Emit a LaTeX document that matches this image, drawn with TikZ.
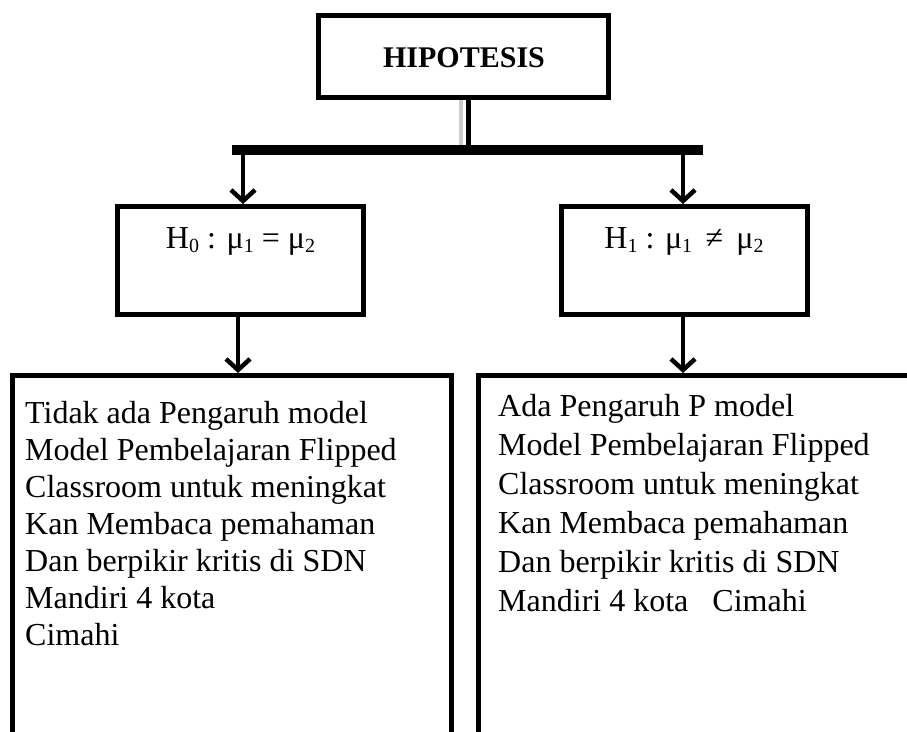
\documentclass[tikz,border=0pt]{standalone}
\usepackage{fontspec}
\setmainfont{Liberation Serif}
\usetikzlibrary{arrows.meta}
\newcommand{\lowidx}[1]{\raisebox{-0.3ex}{\fontsize{20}{20}\selectfont #1}}

\begin{document}
\begin{tikzpicture}
    [x=1pt,y=-1pt,
     box/.style={draw, rectangle, line width=5pt, inner sep=0pt},
     txt/.style={inner sep=0pt, font=\fontsize{32}{37}\selectfont},
     arr/.style={line width=4.5pt, -{Straight Barb[length=11pt,width=24pt]}}]
    \useasboundingbox (0,0) rectangle (907,731);
    \clip (0,0) rectangle (907,731);
    \node[box, minimum width=290pt, minimum height=82pt] (hip) at (463.5, 56.5) {};
    \node[txt, font=\fontsize{30}{30}\selectfont\bfseries, anchor=base] (hipt) at (464, 67) {HIPOTESIS};
    \node[box, minimum width=246pt, minimum height=108pt] (h0) at (240.5, 260.5) {};
    \node[box, minimum width=246pt, minimum height=108pt] (h1) at (684, 260.5) {};
    \node[txt, anchor=base] (h0t) at (240.5, 248) {H\lowidx{0} : μ\lowidx{1} = μ\lowidx{2}};
    \node[txt, anchor=base] (h1t) at (684, 248) {H\lowidx{1} : μ\lowidx{1} \,≠\, μ\lowidx{2}};
    \node[box, minimum width=438.5pt, minimum height=400pt] (r0) at (231.75, 575.5) {};
    \node[box, minimum width=480pt, minimum height=400pt] (r1) at (718.5, 575.5) {};
    \node[txt, align=left, anchor=north west] (r0t) at (25, 401)
      {Tidak ada Pengaruh model\\Model Pembelajaran Flipped\\Classroom untuk meningkat\\Kan Membaca pemahaman\\Dan berpikir kritis di SDN\\Mandiri 4 kota\\Cimahi};
    \node[txt, align=left, anchor=north west, font=\fontsize{32}{39}\selectfont] (r1t) at (498, 394)
      {Ada Pengaruh P model\\Model Pembelajaran Flipped\\Classroom untuk meningkat\\Kan Membaca pemahaman\\Dan berpikir kritis di SDN\\Mandiri 4 kota \ \ Cimahi};
    % bar under the title
    \coordinate (barl) at (232, 150);
    \coordinate (barr) at (703, 150);
    \coordinate (stem) at (468, 150);
    \draw[line width=4pt, black!20] (461, 100) -- (461, 146);
    \draw[line width=5pt] (hip.south -| stem) -- (stem);
    \draw[line width=10pt] (barl) -- (barr);
    \draw[arr] (243, 150) -- (243, 204);
    \draw[arr] (683, 150) -- (683, 204);
    \draw[arr] (h0.south -| 238, 0) -- (238, 373);
    \draw[arr] (h1.south -| 683, 0) -- (683, 373);
\end{tikzpicture}
\end{document}
